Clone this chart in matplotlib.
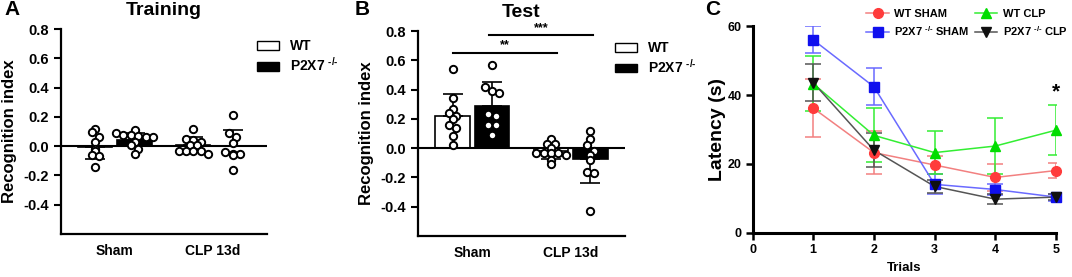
import numpy as np
import matplotlib
matplotlib.use("Agg")
import matplotlib.pyplot as plt
from matplotlib.patches import Patch
from matplotlib.lines import Line2D

plt.rcParams['font.family'] = ['Liberation Sans', 'DejaVu Sans']
plt.rcParams['font.weight'] = 'bold'
plt.rcParams['axes.labelweight'] = 'bold'
plt.rcParams['axes.titleweight'] = 'bold'
plt.rcParams['mathtext.fontset'] = 'custom'
plt.rcParams['mathtext.rm'] = 'Liberation Sans:bold'
plt.rcParams['mathtext.bf'] = 'Liberation Sans:bold'
plt.rcParams['mathtext.default'] = 'bf'

# ---- data ----
groups = ["Sham", "CLP 13d"]
genotypes = ["WT", r"P2X7 $^{\text{-/-}}$"]

# panel A (training): individual recognition indexes
train_sham_wt = [0.12, 0.10, 0.06, 0.03, -0.02, -0.03, -0.06, -0.07, -0.14]
train_sham_ko = [0.11, 0.09, 0.08, 0.08, 0.07, 0.06, 0.06, 0.03, 0.01, -0.02, -0.05]
train_clp_wt = [0.12, 0.05, 0.04, 0.03, 0.01, 0.01, -0.03, -0.03, -0.03, -0.03, -0.05]
train_clp_ko = [0.21, 0.09, 0.06, 0.02, -0.04, -0.05, -0.05, -0.06, -0.16]
train_mean = [[-0.005, 0.04], [0.01, 0.0]]
train_sd = [[0.085, 0.05], [0.055, 0.11]]

# panel B (test)
test_sham_wt = [0.54, 0.34, 0.27, 0.24, 0.22, 0.20, 0.16, 0.14, 0.08, 0.02]
test_sham_ko = [0.57, 0.42, 0.39, 0.38, 0.23, 0.22, 0.16, 0.16, 0.09]
test_clp_wt = [0.06, 0.03, 0.03, 0.00, -0.03, -0.03, -0.03, -0.03, -0.05, -0.08, -0.11]
test_clp_ko = [0.12, 0.06, 0.02, -0.02, -0.05, -0.08, -0.16, -0.17, -0.43]
test_mean = [[0.22, 0.29], [-0.02, -0.075]]
test_sd = [[0.15, 0.16], [0.055, 0.165]]

# panel C (latency over trials)
trials = [1, 2, 3, 4, 5]
wt_sham = [36.2, 23.3, 19.7, 16.1, 18.1]
wt_sham_sd = [8.5, 6.2, 2.5, 4.0, 2.2]
wt_clp = [43.3, 28.3, 23.3, 25.2, 29.8]
wt_clp_sd = [7.9, 7.8, 6.2, 8.0, 7.2]
ko_sham = [56.0, 42.4, 14.1, 12.6, 10.4]
ko_sham_sd = [3.9, 5.3, 2.9, 1.5, 1.0]
ko_clp = [43.6, 24.0, 13.5, 9.8, 10.4]
ko_clp_sd = [5.4, 4.9, 2.0, 1.4, 0.8]


def swarm_offsets(values, ybin=0.04, dx=0.075):
    """Spread points that share a y bin side by side."""
    vals = np.asarray(values)
    offsets = np.zeros(len(vals))
    bins = np.round(vals / ybin).astype(int)
    for b in np.unique(bins):
        idx = np.where(bins == b)[0]
        n = len(idx)
        offsets[idx] = (np.arange(n) - (n - 1) / 2) * dx
    return offsets


def bar_panel(ax, points, means, sds, title):
    x = np.arange(len(groups))
    shift = [-0.2, 0.2]
    faces = ['white', 'black']
    for g in range(2):
        for k in range(2):
            xc = x[g] + shift[k]
            m = means[g][k]
            s = sds[g][k]
            ax.bar(xc, m, width=0.35, color=faces[k], edgecolor='black', lw=1.2, zorder=2)
            err = [[0], [s]] if m >= 0 else [[s], [0]]
            ax.errorbar(xc, m, yerr=err, fmt='none', ecolor='black', elinewidth=1.2,
                        capsize=7, capthick=1.2, zorder=3)
            vals = points[g][k]
            ax.scatter(xc + swarm_offsets(vals), vals, s=28, facecolor='white',
                       edgecolor='black', linewidth=1.4, zorder=4)
    ax.axhline(0, color='black', lw=1.5, zorder=3)
    ax.set_xlim(-0.55, 1.55)
    ax.set_ylim(-0.6, 0.8)
    ax.set_yticks([-0.4, -0.2, 0.0, 0.2, 0.4, 0.6, 0.8])
    ax.set_yticklabels([f"{v:.1f}" for v in [-0.4, -0.2, 0.0, 0.2, 0.4, 0.6, 0.8]])
    ax.set_xticks(x)
    ax.set_xticklabels(groups)
    ax.tick_params(axis='x', length=0, pad=7, labelsize=10)
    ax.tick_params(axis='y', length=5, width=1.5, labelsize=10.5)
    for sp in ['top', 'right']:
        ax.spines[sp].set_visible(False)
    for sp in ['left', 'bottom']:
        ax.spines[sp].set_linewidth(1.6)
    ax.set_ylabel("Recognition index", fontsize=12)
    ax.yaxis.set_label_coords(-0.215, 0.5)
    ax.set_title(title, fontsize=14, pad=10)
    handles = [Patch(facecolor='white', edgecolor='black', lw=1.0),
               Patch(facecolor='black', edgecolor='black', lw=1.0)]
    ax.legend(handles, genotypes, loc='upper left', bbox_to_anchor=(0.95, 0.95),
              frameon=False, fontsize=10, handlelength=1.6, handleheight=0.6,
              handletextpad=0.8, labelspacing=0.2, borderaxespad=0, borderpad=0)


fig = plt.figure(figsize=(10.72, 2.77), dpi=100)

axA = fig.add_axes([0.0569, 0.155, 0.192, 0.74])
bar_panel(axA, [[train_sham_wt, train_sham_ko], [train_clp_wt, train_clp_ko]],
          train_mean, train_sd, "Training")

axB = fig.add_axes([0.390, 0.148, 0.193, 0.740])
bar_panel(axB, [[test_sham_wt, test_sham_ko], [test_clp_wt, test_clp_ko]],
          test_mean, test_sd, "Test")
# significance bars
axB.plot([-0.2, 0.86], [0.65, 0.65], color='black', lw=1.5, clip_on=False)
axB.text(0.33, 0.66, "**", ha='center', va='bottom', fontsize=9)
axB.plot([0.17, 1.23], [0.77, 0.77], color='black', lw=1.5, clip_on=False)
axB.text(0.70, 0.78, "***", ha='center', va='bottom', fontsize=9)

# panel C
axC = fig.add_axes([0.702, 0.159, 0.283, 0.747])
series = [
    ("WT SHAM", wt_sham, wt_sham_sd, '#ff3b3b', '#f28080', 'o', 7),
    (r"P2X7 $^{\text{-/-}}$ SHAM", ko_sham, ko_sham_sd, '#1010ee', '#6a6aff', 's', 6.5),
    ("WT CLP", wt_clp, wt_clp_sd, '#00dd00', '#33ee33', '^', 7),
    (r"P2X7 $^{\text{-/-}}$ CLP", ko_clp, ko_clp_sd, '#101010', '#555555', 'v', 7),
]
handles = []
for name, vals, sd, mcol, lcol, mk, ms in series:
    axC.errorbar(trials, vals, yerr=sd, fmt='none', ecolor=lcol, elinewidth=1.1,
                 capsize=6, capthick=1.1, zorder=2)
    axC.plot(trials, vals, color=lcol, lw=1.1, zorder=3)
    axC.plot(trials, vals, ls='none', marker=mk, ms=ms, color=mcol, zorder=4,
             clip_on=False)
    handles.append(Line2D([], [], color=lcol, lw=1.1, marker=mk, ms=ms,
                          markerfacecolor=mcol, markeredgecolor=mcol))
axC.text(5, 41, "*", ha='center', va='center', fontsize=15)
axC.set_xlim(0, 5)
axC.set_ylim(0, 60)
axC.set_xticks([0, 1, 2, 3, 4, 5])
axC.set_yticks([0, 20, 40, 60])
axC.tick_params(length=5, width=1.8, labelsize=9, pad=3)
for sp in ['top', 'right']:
    axC.spines[sp].set_visible(False)
for sp in ['left', 'bottom']:
    axC.spines[sp].set_linewidth(2.2)
axC.set_xlabel("Trials", fontsize=9.5, labelpad=4)
axC.set_ylabel("Latency (s)", fontsize=14)
axC.yaxis.set_label_coords(-0.086, 0.5)
fig.legend(handles, [s[0] for s in series], ncol=2, loc='upper left',
           bbox_to_anchor=(0.8, 1.0), frameon=False, fontsize=8,
           handlelength=2.0, handletextpad=0.5, columnspacing=0.5,
           labelspacing=0.45, borderpad=0.3)

# panel letters
fig.text(0.004, 0.965, "A", fontsize=15, va='center', ha='left')
fig.text(0.331, 0.965, "B", fontsize=15, va='center', ha='left')
fig.text(0.658, 0.965, "C", fontsize=15, va='center', ha='left')

fig.savefig("out.png", dpi=100)
